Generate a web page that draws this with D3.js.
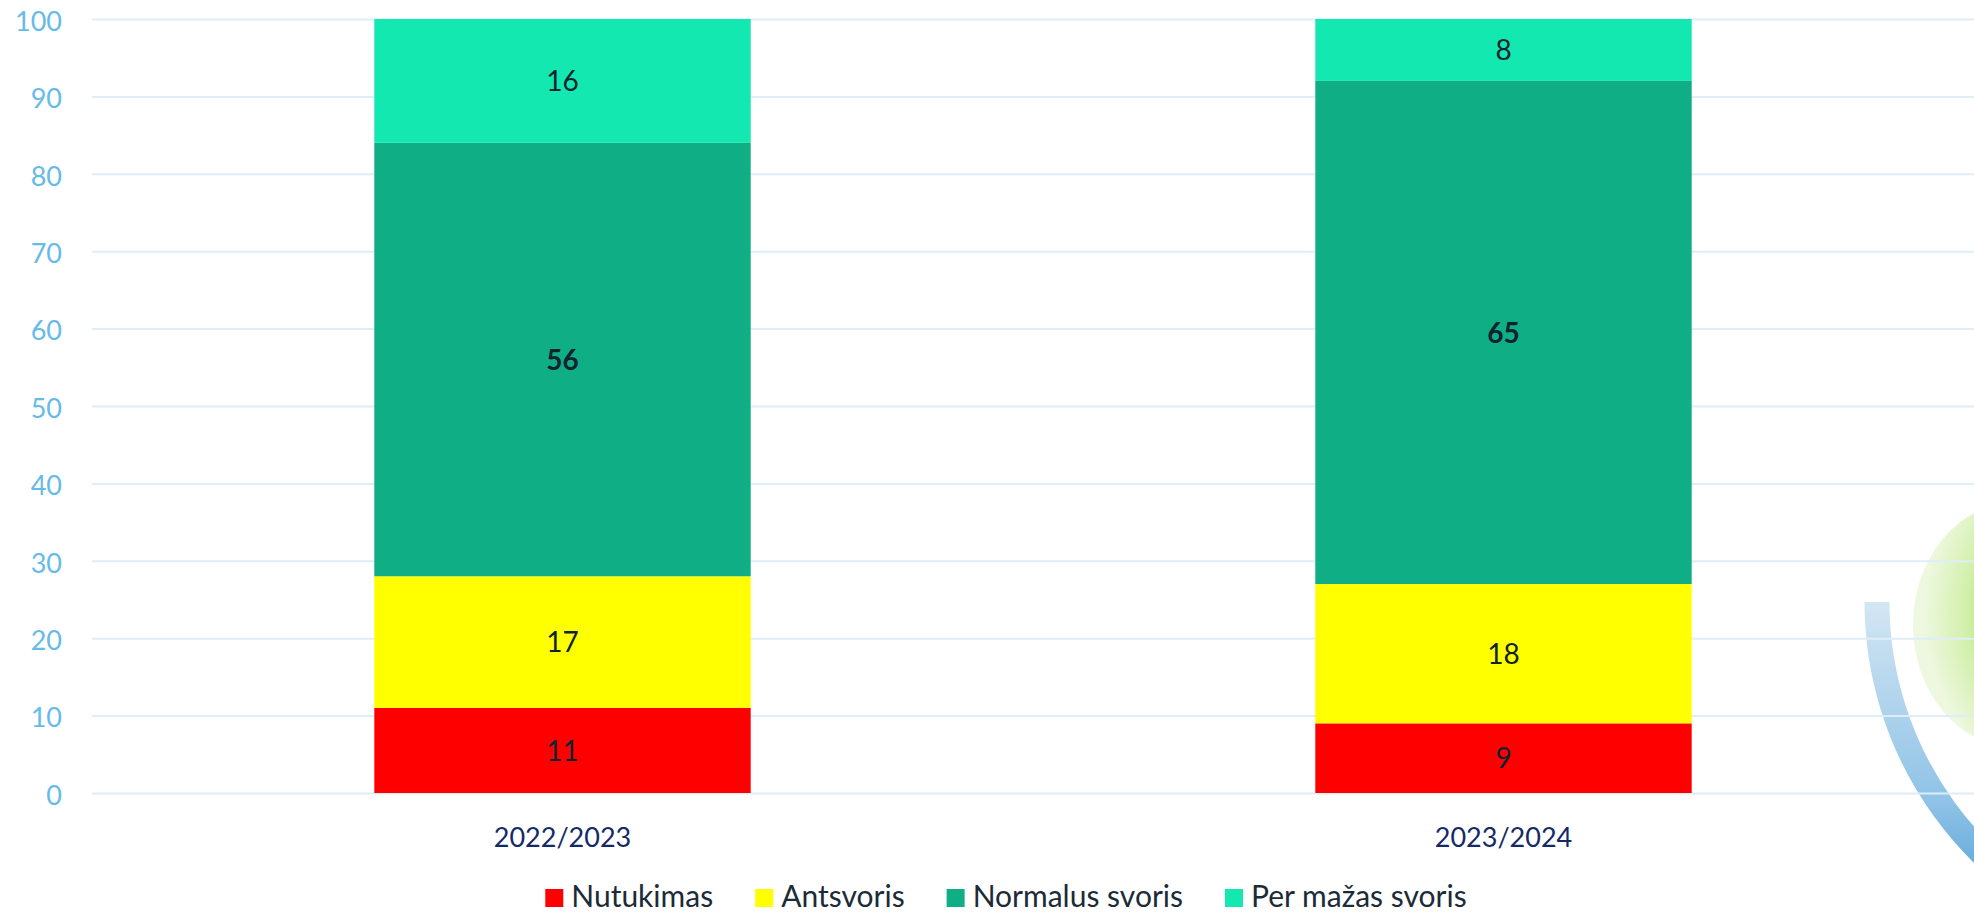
<!DOCTYPE html>
<html>
<head>
<meta charset="utf-8">
<script src="https://cdn.jsdelivr.net/npm/d3@7"></script>
<style>
  body { margin: 0; background: #fff; }
  svg { display: block; font-family: Lato, "Open Sans", sans-serif; }
</style>
</head>
<body>
<svg id="chart" width="1974" height="912"></svg>
<script>
// data
var categories = ["2022/2023", "2023/2024"]
var seriesNames = ["Nutukimas", "Antsvoris", "Normalus svoris", "Per mažas svoris"]
var nutukimas = [11, 9]
var antsvoris = [17, 18]
var normalus = [56, 65]
var perMazas = [16, 8]
var yTicks = [0, 10, 20, 30, 40, 50, 60, 70, 80, 90, 100]

var colors = ["#ff0000", "#ffff00", "#10ae84", "#12e8b0"]

// plot area (window.top is read-only, so no "top" here)
var plotLeft = 92, plotRight = 1974, plotTop = 19, plotBottom = 793

var svg = d3.select("#chart")

// rows for the stack
var rows = categories.map(function(c, i) {
    return {
        cat: c,
        "Nutukimas": nutukimas[i],
        "Antsvoris": antsvoris[i],
        "Normalus svoris": normalus[i],
        "Per mažas svoris": perMazas[i]
    }
})

var x = d3.scaleBand().domain(categories).range([plotLeft, plotRight])
    .paddingInner(0.6).paddingOuter(0.3)
var y = d3.scaleLinear().domain([0, 100]).range([plotBottom, plotTop])

// background watermark (logo at the bottom right)
var defs = svg.append("defs")
var bg = defs.append("linearGradient").attr("id", "arcGrad")
    .attr("x1", 0).attr("y1", 0).attr("x2", 0).attr("y2", 1)
bg.append("stop").attr("offset", "0%").attr("stop-color", "#d3e6f3")
bg.append("stop").attr("offset", "60%").attr("stop-color", "#8ec2e6")
bg.append("stop").attr("offset", "100%").attr("stop-color", "#3f95d2")
var gg = defs.append("radialGradient").attr("id", "leafGrad")
    .attr("cx", "75%").attr("cy", "45%").attr("r", "70%")
gg.append("stop").attr("offset", "0%").attr("stop-color", "#6cc81e")
gg.append("stop").attr("offset", "35%").attr("stop-color", "#9bd84a")
gg.append("stop").attr("offset", "70%").attr("stop-color", "#d2efaa")
gg.append("stop").attr("offset", "100%").attr("stop-color", "#eef8e0")

var deco = svg.append("g").attr("class", "watermark")
deco.append("ellipse")
    .attr("cx", 2015).attr("cy", 625).attr("rx", 102).attr("ry", 122)
    .attr("fill", "url(#leafGrad)")
var arcPath = d3.path()
arcPath.moveTo(1877, 602)
arcPath.arc(1877 + 353, 602, 353, Math.PI, Math.PI * 0.6, true)
deco.append("path")
    .attr("d", arcPath.toString())
    .attr("fill", "none")
    .attr("stroke", "url(#arcGrad)")
    .attr("stroke-width", 25)

// y axis with gridlines
var yAxis = svg.append("g")
    .attr("transform", "translate(" + plotLeft + ",0)")
    .call(d3.axisLeft(y).tickValues(yTicks).tickSize(-(plotRight - plotLeft)).tickPadding(30))
yAxis.select(".domain").remove()
yAxis.selectAll(".tick line")
    .attr("stroke", "#ddeef9")
    .attr("stroke-width", 2)
yAxis.selectAll(".tick text")
    .attr("fill", "#66bbe8")
    .attr("font-size", 27)
    .attr("font-family", "Lato, sans-serif")
    .attr("dy", "0.42em")

// stacked bars
var stacked = d3.stack().keys(seriesNames)(rows)

var layers = svg.append("g").selectAll("g")
    .data(stacked)
    .join("g")
    .attr("fill", function(d, i) { return colors[i] })

layers.selectAll("rect")
    .data(function(d) { return d })
    .join("rect")
    .attr("x", function(d) { return x(d.data.cat) })
    .attr("y", function(d) { return y(d[1]) })
    .attr("width", x.bandwidth())
    .attr("height", function(d) { return y(d[0]) - y(d[1]) })

// value labels
stacked.forEach(function(layer, i) {
    svg.append("g").selectAll("text")
        .data(layer)
        .join("text")
        .attr("x", function(d) { return x(d.data.cat) + x.bandwidth() / 2 })
        .attr("y", function(d) { return (y(d[0]) + y(d[1])) / 2 })
        .attr("dy", "0.36em")
        .attr("text-anchor", "middle")
        .attr("font-size", 28)
        .attr("font-weight", i === 2 ? 700 : 400)
        .attr("fill", "#0f2230")
        .text(function(d) { return d[1] - d[0] })
})

// category axis
var xAxis = svg.append("g")
    .attr("transform", "translate(0," + plotBottom + ")")
    .call(d3.axisBottom(x).tickSize(0).tickPadding(35))
xAxis.select(".domain").remove()
xAxis.selectAll(".tick text")
    .attr("fill", "#142a66")
    .attr("font-size", 27)
    .attr("font-family", "Lato, sans-serif")

// legend
var legend = svg.append("g")
var lx = 0
seriesNames.forEach(function(name, i) {
    var g = legend.append("g")
    g.append("rect").attr("x", 0).attr("y", -18).attr("width", 18).attr("height", 18)
        .attr("fill", colors[i])
    var t = g.append("text").attr("x", 26).attr("y", 0)
        .attr("font-size", 30)
        .attr("fill", "#1b2b38")
        .text(name)
    var w = 26 + t.node().getComputedTextLength()
    g.attr("transform", "translate(" + lx + ",0)")
    lx += w + 42
})
var legendWidth = lx - 42
legend.attr("transform", "translate(" + (1006 - legendWidth / 2) + ",907)")
</script>
</body>
</html>
